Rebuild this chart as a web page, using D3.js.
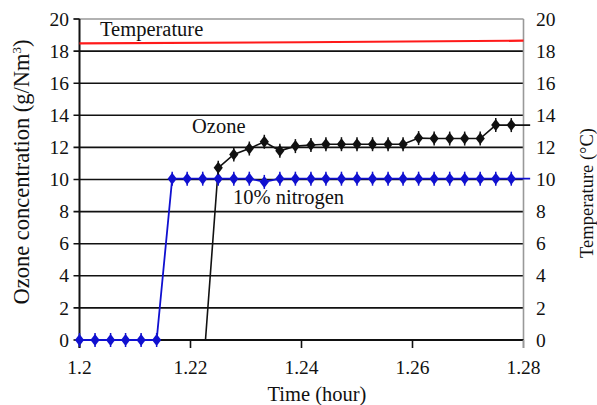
<!DOCTYPE html>
<html><head><meta charset="utf-8">
<script src="https://cdn.jsdelivr.net/npm/d3@7"></script>
<style>body{margin:0;background:#fff}svg{display:block}</style>
</head><body><svg id="c" width="597" height="405" font-family="'Liberation Serif', 'DejaVu Serif', serif"></svg>
<script>
// Time (hour) of each sample
const times = [1.2, 1.2028, 1.2056, 1.2083, 1.2111, 1.2139, 1.2167, 1.2194, 1.2222, 1.2250,
  1.2278, 1.2306, 1.2333, 1.2361, 1.2389, 1.2417, 1.2444, 1.2472, 1.25, 1.2528,
  1.2556, 1.2583, 1.2611, 1.2639, 1.2667, 1.2694, 1.2722, 1.275, 1.2778];
// 10% nitrogen series (g/Nm3)
const nitrogen = [0, 0, 0, 0, 0, 0, 10.05, 10.05, 10.05, 10.05,
  10.05, 10.05, 9.85, 10.05, 10.05, 10.05, 10.05, 10.05, 10.05, 10.05,
  10.05, 10.05, 10.05, 10.05, 10.05, 10.05, 10.05, 10.05, 10.05];
// Ozone series: starts at index 9, preceded by a zero point at 1.2227
const ozoneStart = {t: 1.2227, v: 0};
const ozone = [null, null, null, null, null, null, null, null, null, 10.73,
  11.56, 11.93, 12.35, 11.79, 12.08, 12.15, 12.2, 12.2, 12.2, 12.2,
  12.2, 12.2, 12.58, 12.55, 12.55, 12.55, 12.55, 13.39, 13.39];
// lines continue slightly past the right axis
const tailTime = 1.2812;
// Temperature (°C)
const tempTimes = [1.2, 1.24, 1.28];
const tempValues = [18.48, 18.55, 18.65];
const xTicks = [1.2, 1.22, 1.24, 1.26, 1.28];
const xTickLabels = ["1.2", "1.22", "1.24", "1.26", "1.28"];
const yTicks = [0, 2, 4, 6, 8, 10, 12, 14, 16, 18, 20];

const FONT = "'Liberation Serif', 'DejaVu Serif', serif";
const svg = d3.select("#c");
const L = 79.5, R = 523.5, T = 19, B = 340;
const x = d3.scaleLinear().domain([1.2, 1.28]).range([L, R]);
const y = d3.scaleLinear().domain([0, 20]).range([B, T]);
const yR = d3.scaleLinear().domain([0, 20]).range([B, T]);

function txt(sel) { return sel.attr("font-family", FONT).attr("fill", "#111"); }

// gridlines
svg.append("g").selectAll("line").data(yTicks.filter(d => d > 0 && d < 20)).join("line")
  .attr("x1", L - 6).attr("x2", R).attr("y1", d => y(d)).attr("y2", d => y(d))
  .attr("stroke", "#111").attr("stroke-width", 1.6);
svg.append("line").attr("x1", L - 6).attr("x2", L).attr("y1", y(0)).attr("y2", y(0)).attr("stroke", "#111").attr("stroke-width", 1.6);
// top frame and right axis (gray)
svg.append("line").attr("x1", L - 6).attr("x2", R).attr("y1", y(20)).attr("y2", y(20)).attr("stroke", "#999").attr("stroke-width", 1.4);
svg.append("line").attr("x1", L - 6).attr("x2", L).attr("y1", y(20)).attr("y2", y(20)).attr("stroke", "#111").attr("stroke-width", 1.6);
svg.append("line").attr("x1", R).attr("x2", R).attr("y1", y(20)).attr("y2", B + 8).attr("stroke", "#999").attr("stroke-width", 1.6);

// left labels
txt(svg.append("g").selectAll("text").data(yTicks).join("text"))
  .attr("x", 69).attr("y", d => y(d)).attr("dy", "0.34em").attr("text-anchor", "end")
  .attr("font-size", 19.5).text(d => d);
// right labels
txt(svg.append("g").selectAll("text").data(yTicks).join("text"))
  .attr("x", 536).attr("y", d => yR(d)).attr("dy", "0.34em").attr("text-anchor", "start")
  .attr("font-size", 19.5).text(d => d);

// x axis
svg.append("line").attr("x1", L).attr("x2", R).attr("y1", B).attr("y2", B).attr("stroke", "#111").attr("stroke-width", 1.8);
svg.append("g").selectAll("line").data(xTicks).join("line")
  .attr("x1", d => x(d)).attr("x2", d => x(d)).attr("y1", B).attr("y2", B + 8)
  .attr("stroke", d => d === 1.28 ? "#999" : "#111").attr("stroke-width", 1.6);
txt(svg.append("g").selectAll("text").data(xTicks).join("text"))
  .attr("x", d => x(d)).attr("y", 374).attr("text-anchor", "middle").attr("font-size", 19.5)
  .text((d, i) => xTickLabels[i]);

// left axis
svg.append("line").attr("x1", L).attr("x2", L).attr("y1", T).attr("y2", B + 8).attr("stroke", "#111").attr("stroke-width", 2);

// temperature
const tempLine = d3.line().x(d => x(d[0])).y(d => yR(d[1]));
svg.append("path").attr("d", tempLine(tempTimes.map((t, i) => [t, tempValues[i]])))
  .attr("fill", "none").attr("stroke", "#ff1a1a").attr("stroke-width", 2.2);

const line = d3.line().x(d => x(d[0])).y(d => y(d[1]));

// nitrogen
const nData = times.map((t, i) => [t, nitrogen[i]]);
svg.append("path").attr("d", line(nData.concat([[tailTime, nitrogen[nitrogen.length - 1]]])))
  .attr("fill", "none").attr("stroke", "#1010d0").attr("stroke-width", 1.8);

// ozone
const oData = times.map((t, i) => [t, ozone[i]]).filter(d => d[1] !== null);
svg.append("path").attr("d", line([[ozoneStart.t, ozoneStart.v]].concat(oData, [[tailTime, ozone[ozone.length - 1]]])))
  .attr("fill", "none").attr("stroke", "#111").attr("stroke-width", 1.6);

function markers(data, color) {
  const g = svg.append("g");
  const sel = g.selectAll("g").data(data).join("g")
    .attr("transform", d => `translate(${x(d[0])},${y(d[1])})`);
  sel.append("path").attr("d", "M0,-6L4.6,0L0,6L-4.6,0Z").attr("fill", color);
  sel.append("line").attr("x1", 0).attr("x2", 0).attr("y1", -7).attr("y2", 7).attr("stroke", color).attr("stroke-width", 1.5);
}
markers(nData, "#1010d0");
markers(oData, "#111");

// annotations
txt(svg.append("text")).attr("x", 100).attr("y", 36).attr("font-size", 20.5).text("Temperature");
txt(svg.append("text")).attr("x", 192).attr("y", 133).attr("font-size", 20.5).text("Ozone");
txt(svg.append("text")).attr("x", 233).attr("y", 204).attr("font-size", 20.5).text("10% nitrogen");

// axis titles
txt(svg.append("text")).attr("x", 317).attr("y", 401).attr("text-anchor", "middle").attr("font-size", 20.5).text("Time (hour)");
const lt = txt(svg.append("text")).attr("transform", "translate(29,172) rotate(-90)").attr("text-anchor", "middle").attr("font-size", 22.5);
lt.append("tspan").text("Ozone concentration (g/Nm");
lt.append("tspan").attr("font-size", 13).attr("dy", -8).text("3");
lt.append("tspan").attr("dy", 8).text(")");
txt(svg.append("text")).attr("transform", "translate(593,193) rotate(-90)").attr("text-anchor", "middle").attr("font-size", 18.5).text("Temperature (°C)");
</script></body></html>
